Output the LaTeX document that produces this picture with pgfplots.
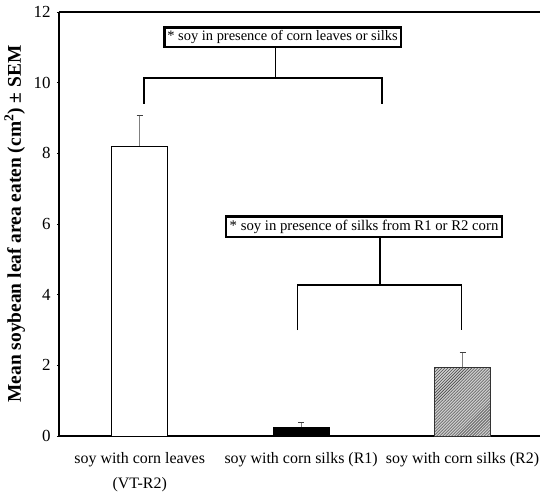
\documentclass[border=0pt]{standalone}
\usepackage{fontspec}
\setmainfont{Liberation Serif}
\usepackage{pgfplots}
\pgfplotsset{compat=1.18}
\usetikzlibrary{patterns}
\begin{document}
\begin{tikzpicture}
\path[use as bounding box] (-59bp,-63bp) rectangle (481bp,436bp);
\begin{axis}[
  scale only axis, width=481bp, height=424bp,
  xmin=-0.5, xmax=2.48, ymin=0, ymax=12,
  axis x line*=box, axis y line*=left,
  axis line style={line width=1.8bp, black},
  ytick={0,2,...,12},
  xtick={0,1,2},
  xticklabels={{soy with corn leaves\\(VT-R2)},{soy with corn silks (R1)},{soy with corn silks (R2)}},
  xticklabel style={align=center, font=\fontsize{16}{25}\selectfont, yshift=-11bp},
  yticklabel style={font=\fontsize{17}{19}\selectfont, xshift=-3bp},
  /pgf/number format/assume math mode=true,
  xtick style={draw=none},
  tick align=outside, major tick length=2bp,
  ytick style={black, line width=0.4bp},
  ylabel={\textbf{Mean soybean leaf area eaten (cm\textsuperscript{2}) ± SEM}},
  ylabel style={font=\fontsize{19.5}{22}\selectfont, at={(axis description cs:-0.092,0.5)}, anchor=center},
  ybar, bar width=56bp, bar shift=0pt,
  error bars/y dir=plus, error bars/y explicit,
  error bars/error bar style={gray, line width=0.9bp},
  error bars/error mark options={rotate=90, black!75, mark size=3bp, line width=1bp},
]
\addplot[draw=black, line width=0.8bp, fill=white] coordinates {(0,8.21) +- (0,0.85)};
\addplot[draw=black, line width=0.8bp, fill=black] coordinates {(1,0.25) +- (0,0.12)};
\addplot[draw=black!80, line width=0.6bp, fill=gray!40, postaction={pattern=north east lines, pattern color=black!80}] coordinates {(2,1.94) +- (0,0.43)};
% bracket 1
\draw[line width=1.6bp] (axis cs:0.025,9.4) -- (axis cs:0.025,10.13) -- (axis cs:1.5,10.13) -- (axis cs:1.5,9.4);
\draw[line width=1.6bp] (axis cs:0.842,10.13) -- (axis cs:0.842,11.0);
\node[draw, line width=2.2bp, fill=white, inner sep=3bp, font=\fontsize{14.5}{16}\selectfont] at (axis cs:0.885,11.29) {* soy in presence of corn leaves or silks};
% bracket 2
\draw[line width=1.6bp] (axis cs:0.978,3.0) -- (axis cs:0.978,4.27) -- (axis cs:1.994,4.27) -- (axis cs:1.994,3.0);
\draw[line width=1.6bp] (axis cs:1.49,4.27) -- (axis cs:1.49,5.6);
\node[draw, line width=2.2bp, fill=white, inner sep=3.5bp, font=\fontsize{14.8}{16}\selectfont] at (axis cs:1.39,5.92) {* soy in presence of silks from R1 or R2 corn};
\end{axis}
\end{tikzpicture}
\end{document}
